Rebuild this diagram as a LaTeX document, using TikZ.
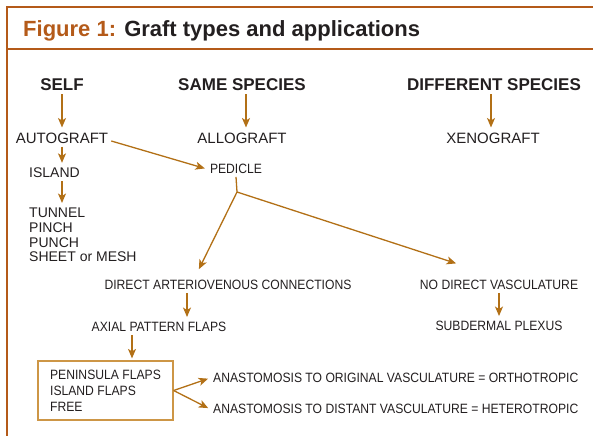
\documentclass[tikz,border=0pt]{standalone}
\usepackage{fontspec}
\setmainfont{Liberation Sans}
\newfontfamily\narrowsf[FakeStretch=0.9]{Liberation Sans}
\usetikzlibrary{arrows.meta}
\tikzset{
  hdr/.style    ={font=\fontsize{17}{20}\selectfont\bfseries, text=inkgray,
                  inner sep=3pt},
  graft/.style  ={font=\fontsize{15}{18}\selectfont, text=inkgray,
                  inner sep=3pt},
  lst/.style    ={font=\fontsize{14}{14.7}\selectfont, text=inkgray,
                  inner sep=3pt, align=left},
  sml/.style    ={font=\narrowsf\fontsize{13.5}{16}\selectfont, text=inkgray,
                  inner sep=3pt},
  flapbox/.style={sml, draw=boxgold, line width=1.2pt, align=left,
                  minimum width=135pt, minimum height=59pt},
  arr/.style    ={-{Stealth[length=9.5pt,width=8pt,inset=2.5pt]},
                  draw=arrgold, line width=1.3pt, shorten >=2pt},
  frm/.style    ={draw=figorange, line width=1.5pt},
}
\definecolor{figorange}{RGB}{180,90,25}
\definecolor{arrgold}  {RGB}{178,112,22}
\definecolor{boxgold}  {RGB}{205,150,70}
\definecolor{inkgray}  {RGB}{35,31,32}

\begin{document}
\begin{tikzpicture}[x=1pt,y=-1pt]
  \useasboundingbox (0,0) rectangle (593,436);
  \draw[frm] (593,7) -- (7,7) -- (7,436);
  \draw[frm] (7,49) -- (593,49);
  \node[anchor=base west, inner sep=0pt, text=inkgray,
        font=\fontsize{22}{26}\selectfont\bfseries] (title) at (23,37)
        {\textcolor{figorange}{Figure 1:} Graft types and applications};

  \node[hdr] (self) at (62,85) {SELF};
  \node[hdr] (same) at (242,85) {SAME SPECIES};
  \node[hdr] (diff) at (494,85) {DIFFERENT SPECIES};
  \node[graft] (auto) at (62,138) {AUTOGRAFT};
  \node[graft] (allo) at (242,138) {ALLOGRAFT};
  \node[graft] (xeno) at (493,138) {XENOGRAFT};
  \node[lst, anchor=west] (isl) at (26,173) {ISLAND};
  \node[lst, anchor=north west] (tun) at (26,205)
        {TUNNEL\\PINCH\\PUNCH\\SHEET or MESH};
  \node[sml] (ped) at (236,169) {PEDICLE};
  \coordinate (split) at (237,192);
  \node[sml] (dav) at (228,285) {DIRECT ARTERIOVENOUS CONNECTIONS};
  \node[sml] (ndv) at (499,285) {NO DIRECT VASCULATURE};
  \node[sml] (axial) at (159,327) {AXIAL PATTERN FLAPS};
  \node[sml] (subd) at (499,326) {SUBDERMAL PLEXUS};
  \node[flapbox] (flaps) at (105.5,390.5)
        {PENINSULA FLAPS\\ISLAND FLAPS\\FREE};
  \node[sml, anchor=west] (orth) at (210,378)
        {ANASTOMOSIS TO ORIGINAL VASCULATURE = ORTHOTROPIC};
  \node[sml, anchor=west] (het) at (210,409)
        {ANASTOMOSIS TO DISTANT VASCULATURE = HETEROTROPIC};

  \draw[arr] (self) -- (auto);
  \draw[arr] ([xshift=4pt]same.south) -- ([xshift=4pt]allo.north);
  \draw[arr] ([xshift=-3pt]diff.south) -- ([xshift=-3pt]diff.south |- xeno.north);
  \draw[arr] (auto.south) -- (auto.south |- isl.north);
  \draw[arr] (auto.south |- isl.south) -- (auto.south |- tun.north);
  \draw[arr] ([yshift=-3pt]auto.east) -- (ped.west);
  \draw[arrgold, line width=1.3pt] (ped.south) -- (split);
  \draw[arr] (split) -- ([shift={(-30,-6)}]dav.north);
  \draw[arr] (split) -- ([shift={(-41,-13)}]ndv.north);
  \draw[arr] ([xshift=-41pt]dav.south) -- ([xshift=-41pt]dav.south |- axial.north);
  \draw[arr] (ndv) -- (subd);
  \draw[arr] ([xshift=-27pt]axial.south) -- ([xshift=-27pt]axial.south |- flaps.north);
  \draw[arr] (flaps.east) -- (orth.west);
  \draw[arr] (flaps.east) -- (het.west);
\end{tikzpicture}
\end{document}
